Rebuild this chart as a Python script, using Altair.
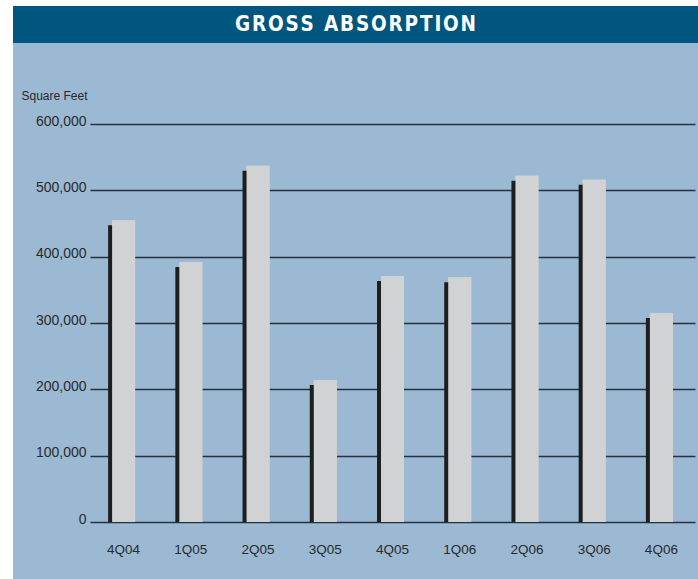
import altair as alt
import pandas as pd

quarters = ["4Q04", "1Q05", "2Q05", "3Q05", "4Q05", "1Q06", "2Q06", "3Q06", "4Q06"]
absorption = [455000, 392000, 537000, 214000, 371000, 369000, 522000, 516000, 315000]
y_ticks = [0, 100000, 200000, 300000, 400000, 500000, 600000]
title_text = "GROSS ABSORPTION"

df = pd.DataFrame({"quarter": quarters, "sf": absorption})
one = pd.DataFrame({"k": [0]})

W, H = 605, 398
Y_MAX = 600000
SHADOW_DROP_PX = 5
BG = "#9bb9d3"
TXT = "#2a2a2a"

x = alt.X("quarter:N", sort=quarters, title=None,
          scale=alt.Scale(paddingInner=0, paddingOuter=0),
          axis=alt.Axis(labelAngle=0, labelFontSize=13.5, labelColor=TXT,
                        labelFont="Liberation Sans", labelPadding=20,
                        domain=False, ticks=False, grid=False))
y_scale = alt.Scale(domain=[0, Y_MAX], nice=False)
y = alt.Y("sf:Q", title="Square Feet", scale=y_scale, stack=None,
          axis=alt.Axis(values=y_ticks, format=",d", grid=True,
                        gridColor="#26313c", gridWidth=1.5,
                        domain=False, ticks=False,
                        labelFontSize=14, labelColor=TXT,
                        labelFont="Liberation Sans", labelPadding=4,
                        labelBaseline="alphabetic", labelOffset=1,
                        titleAngle=0, titleX=-69, titleY=-25,
                        titleAlign="left", titleBaseline="alphabetic",
                        titleFontSize=12, titleFontWeight="normal",
                        titleColor=TXT, titleFont="Liberation Sans"))

shadow = alt.Chart(df).transform_calculate(
    sf_sh=f"datum.sf - {SHADOW_DROP_PX * Y_MAX / H}"
).mark_bar(color="#1e1e1e", width=23, xOffset=-4).encode(
    x=x, y=alt.Y("sf_sh:Q", scale=y_scale, stack=None))
bars = alt.Chart(df).mark_bar(color="#d1d2d4", width=23).encode(x=x, y=y)

white_left = alt.Chart(one).mark_rect(color="white").encode(
    x=alt.value(-90), x2=alt.value(-77), y=alt.value(-124), y2=alt.value(455))
white_top = alt.Chart(one).mark_rect(color="white").encode(
    x=alt.value(-90), x2=alt.value(608), y=alt.value(-124), y2=alt.value(-118))
title_bar = alt.Chart(one).mark_rect(color="#00567f").encode(
    x=alt.value(-77), x2=alt.value(608), y=alt.value(-118), y2=alt.value(-81))
title = alt.Chart(one).mark_text(
    color="white", fontSize=20.5, fontWeight="bold",
    font="'Liberation Sans Narrow', 'DejaVu Sans Condensed', sans-serif",
    align="center", baseline="middle").encode(
    x=alt.value(265.5), y=alt.value(-99),
    text=alt.value("\u200a".join(title_text)))

chart = alt.layer(white_left, white_top, title_bar, title, bars, shadow, bars).properties(
    width=W, height=H,
    background=BG,
    padding={"left": 90, "top": 124, "right": 3, "bottom": 57},
    autosize=alt.AutoSizeParams(type="none"),
).configure_view(stroke=None)

chart.save("out.html", embed_options={"renderer": "svg", "actions": False})
